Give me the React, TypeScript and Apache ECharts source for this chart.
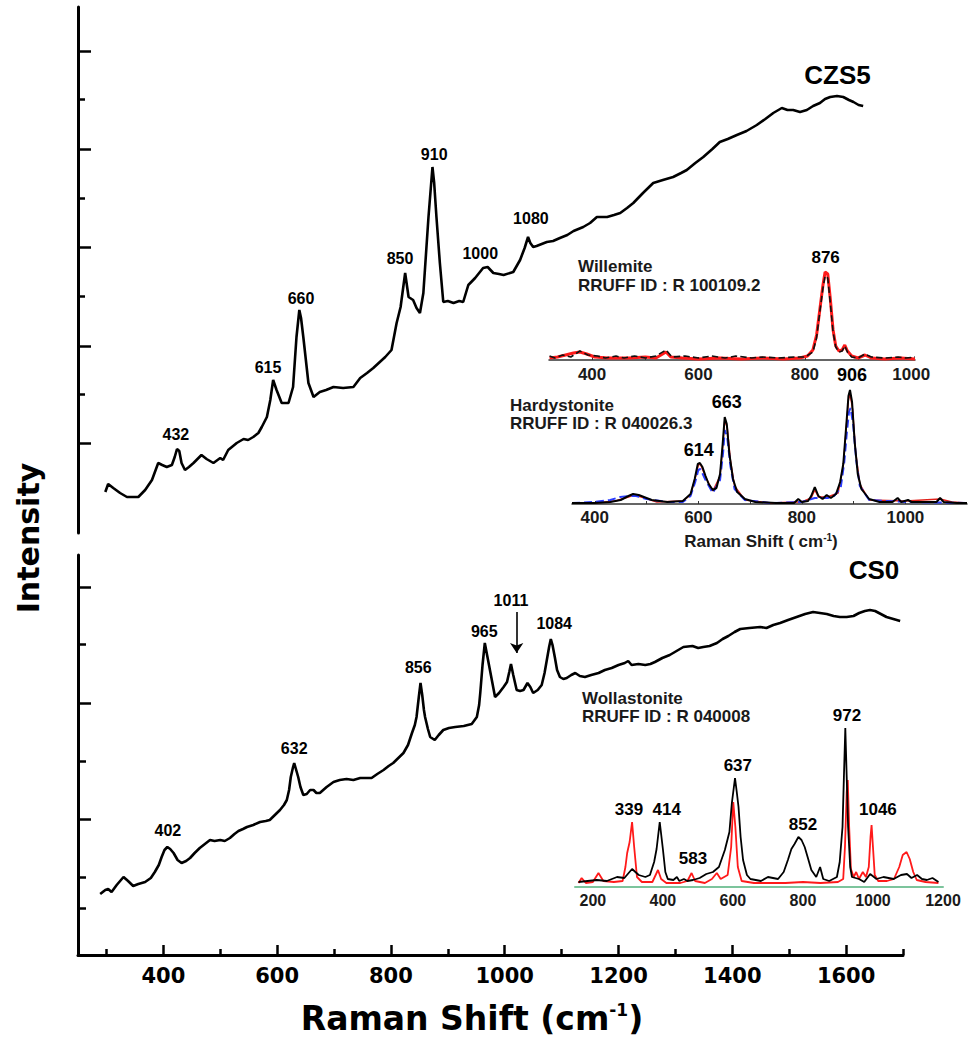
import React, { useEffect, useRef } from "react";
import * as echarts from "echarts";

// ---------- main spectra (Raman shift cm-1, intensity a.u.) ----------
const czs5: [number, number][] = [
  [298,41],[303,49],[312,45],[324,40],[336,36],[356,36],[368,43],[380,53],[391,70],[398,68],[406,66],[415,68],[420,76],[424,84],[428,82],[432,70],[438,63],[445,66],[453,70],[467,78],[476,74],[488,70],[500,75],[505,73],[514,83],[529,90],[541,94],[549,93],[558,96],[567,100],[573,106],[582,116],[588,133],[593,153],[599,143],[608,130],[620,130],[628,146],[634,196],[639,223],[642,215],[646,196],[655,150],[664,136],[675,141],[686,143],[699,146],[716,145],[734,146],[746,155],[758,160],[769,165],[790,176],[801,183],[810,210],[817,226],[825,260],[831,236],[839,233],[845,225],[851,220],[857,240],[866,316],[873,366],[876,350],[880,316],[886,270],[892,231],[900,232],[910,230],[920,232],[927,231],[936,248],[948,255],[962,265],[970,266],[980,260],[990,259],[998,258],[1015,261],[1027,273],[1035,285],[1041,296],[1045,290],[1050,286],[1056,287],[1065,289],[1074,291],[1085,292],[1097,295],[1110,298],[1121,302],[1138,306],[1150,310],[1162,316],[1180,316],[1192,318],[1203,320],[1215,325],[1226,330],[1243,340],[1261,350],[1278,353],[1296,356],[1310,360],[1320,363],[1335,370],[1349,376],[1365,384],[1378,391],[1392,394],[1408,398],[1425,402],[1443,408],[1458,414],[1472,420],[1487,425],[1497,423],[1507,423],[1519,421],[1531,423],[1542,427],[1554,430],[1563,434],[1572,436],[1584,437],[1595,436],[1605,433],[1613,431],[1622,428],[1630,427]
];

const cs0: [number, number][] = [
  [289,61],[298,65],[303,66],[309,63],[318,70],[324,74],[330,78],[338,74],[347,69],[356,71],[368,73],[378,77],[385,83],[392,90],[397,98],[402,105],[407,108],[412,106],[418,102],[425,95],[432,92],[440,94],[447,97],[455,102],[464,107],[473,111],[482,115],[490,114],[500,115],[508,114],[517,117],[525,121],[532,124],[540,126],[547,128],[558,130],[570,133],[580,134],[587,135],[596,140],[605,145],[612,150],[617,155],[621,165],[624,178],[628,188],[630,192],[633,186],[637,178],[641,168],[646,160],[652,161],[658,165],[664,165],[669,162],[675,162],[687,168],[699,173],[710,175],[722,176],[734,175],[746,177],[756,177],[766,177],[776,181],[787,185],[796,189],[804,192],[813,197],[822,202],[830,210],[837,222],[842,230],[845,238],[849,258],[852,272],[855,260],[858,245],[860,238],[865,226],[869,218],[877,215],[884,220],[892,225],[902,227],[913,228],[928,229],[942,231],[951,238],[955,250],[957,262],[961,290],[965,312],[969,300],[974,285],[979,270],[983,258],[990,262],[998,268],[1004,273],[1008,283],[1011,291],[1015,280],[1021,265],[1027,264],[1033,265],[1040,272],[1045,268],[1050,262],[1058,265],[1065,270],[1070,282],[1074,295],[1078,308],[1081,316],[1084,310],[1088,298],[1092,285],[1097,278],[1103,276],[1109,277],[1117,280],[1124,282],[1132,279],[1141,278],[1152,280],[1165,282],[1176,285],[1188,287],[1200,290],[1211,292],[1217,294],[1223,290],[1235,291],[1247,290],[1256,291],[1264,293],[1277,297],[1290,300],[1302,304],[1314,308],[1330,309],[1340,307],[1349,308],[1360,309],[1373,312],[1383,316],[1393,319],[1404,323],[1414,326],[1430,327],[1449,328],[1460,327],[1472,330],[1484,332],[1498,335],[1513,338],[1528,341],[1542,343],[1554,342],[1566,341],[1578,339],[1589,338],[1601,338],[1613,339],[1623,342],[1633,344],[1642,345],[1651,344],[1661,341],[1671,338],[1683,336],[1695,334]
];

// ---------- reference spectra (insets) ----------
const willemiteRed: [number, number][] = [
  [320,2],[335,3],[350,5],[365,7],[377,8],[390,6],[405,3],[430,2],[470,2],[500,3],[520,2],[539,8],[548,3],[570,2],[600,1],[640,2],[680,1],[720,2],[760,1],[790,2],[805,4],[815,10],[822,25],[828,50],[834,75],[838,88],[843,86],[848,60],[853,30],[858,14],[864,9],[870,10],[875,15],[880,9],[888,4],[900,2],[913,5],[925,2],[950,1],[980,2],[1007,1]
];
const willemiteBlack: [number, number][] = [
  [320,4],[330,2],[345,5],[360,3],[377,9],[392,5],[410,4],[425,2],[445,4],[460,2],[480,4],[500,2],[520,4],[539,10],[550,3],[575,4],[600,2],[625,4],[650,2],[670,4],[700,2],[720,3],[750,2],[780,3],[800,3],[815,8],[822,22],[828,48],[834,72],[838,84],[843,82],[848,56],[853,28],[858,13],[864,8],[870,9],[875,14],[880,8],[888,3],[900,2],[913,6],[925,3],[950,2],[975,3],[990,2],[1007,3]
];

const hardyBlack: [number, number][] = [
  [356,1],[380,1],[400,1],[430,2],[450,4],[465,8],[474,10],[485,9],[495,7],[510,4],[540,2],[570,3],[585,10],[593,25],[599,40],[603,41],[608,37],[614,28],[620,20],[628,14],[635,16],[642,30],[647,60],[651,87],[655,80],[660,50],[667,25],[675,12],[690,5],[710,2],[750,1],[785,1],[793,5],[800,2],[812,3],[818,8],[825,17],[832,8],[840,5],[848,9],[856,6],[866,10],[874,22],[880,40],[886,80],[890,108],[893,114],[897,102],[902,62],[908,30],[915,15],[930,5],[950,2],[975,2],[985,6],[992,2],[1005,4],[1012,2],[1040,2],[1060,2],[1067,6],[1074,2],[1100,1],[1119,1]
];
const hardyRed: [number, number][] = [
  [356,1],[400,1],[440,3],[465,7],[476,9],[490,7],[520,2],[570,3],[585,9],[594,26],[600,39],[604,40],[614,27],[628,13],[642,28],[648,62],[651,84],[656,76],[662,44],[670,18],[690,4],[740,1],[790,2],[800,2],[818,6],[825,14],[832,7],[850,7],[870,11],[880,38],[886,78],[890,104],[893,110],[898,95],[904,52],[912,20],[930,4],[1000,3],[1067,5],[1090,2],[1119,1]
];
const hardyBlue: [number, number][] = [
  [356,1],[400,2],[430,4],[449,7],[465,8],[480,8],[500,5],[540,2],[570,2],[585,8],[594,22],[600,34],[604,35],[614,24],[628,11],[642,24],[648,52],[651,74],[656,66],[662,38],[670,15],[690,4],[740,1],[800,2],[825,6],[850,6],[862,8],[875,16],[882,42],[887,72],[891,92],[894,96],[899,80],[905,44],[912,18],[930,4],[1000,2],[1119,1]
];

const wollBlack: [number, number][] = [
  [159,5],[185,6],[211,7],[240,6],[269,10],[290,9],[312,18],[331,12],[350,10],[363,12],[375,25],[382,38],[391,65],[400,38],[407,15],[414,8],[430,7],[440,10],[447,6],[460,8],[470,6],[486,7],[505,9],[524,13],[543,15],[560,20],[577,37],[590,55],[597,84],[606,109],[611,95],[616,80],[622,50],[629,27],[640,12],[650,8],[680,6],[700,10],[729,8],[745,15],[757,27],[767,38],[776,43],[787,50],[796,47],[805,40],[815,28],[824,17],[838,10],[849,20],[858,8],[875,6],[897,10],[905,25],[913,60],[917,110],[921,159],[925,110],[929,60],[935,20],[940,10],[960,8],[975,5],[992,13],[1010,8],[1030,10],[1059,8],[1080,12],[1097,13],[1110,9],[1126,12],[1140,8],[1154,7],[1170,9],[1187,5]
];
const wollRed: [number, number][] = [
  [159,4],[168,9],[180,4],[200,5],[216,14],[230,6],[260,5],[285,6],[293,20],[298,34],[305,45],[312,65],[318,40],[326,10],[340,5],[370,5],[386,17],[395,8],[410,4],[450,4],[470,6],[482,14],[492,6],[520,4],[540,8],[554,14],[565,8],[585,12],[595,40],[601,85],[607,60],[614,20],[625,6],[660,4],[700,4],[750,4],[800,5],[850,4],[900,5],[915,8],[920,40],[925,95],[928,107],[932,60],[937,18],[945,10],[952,15],[960,8],[971,15],[980,10],[988,20],[993,50],[996,62],[1000,40],[1005,12],[1015,6],[1040,6],[1060,8],[1075,20],[1085,32],[1096,35],[1105,28],[1115,15],[1125,7],[1150,5],[1187,4]
];

// ---------- peak labels [shift, intensity, text] ----------
const czs5Labels: [number, number, string][] = [
  [422,99,"432"],[584,166,"615"],[642,235,"660"],[816,275,"850"],[876,379,"910"],[957,280,"1000"],[1046,315,"1080"]
];
const cs0Labels: [number, number, string][] = [
  [408,125,"402"],[630,207,"632"],[848,288,"856"],[964,324,"965"],[1011,355,"1011"],[1087,332,"1084"]
];
const sampleNamesTop: [number, number, string][] = [[1585,458,"CZS5"]];
const sampleNamesBottom: [number, number, string][] = [[1649,385,"CS0"]];
const willemiteLabels: [number, number, string][] = [[839,103,"876"]];
const hardyLabels: [number, number, string][] = [[601,54,"614"],[655,102,"663"],[897,129,"906"]];
const wollLabels: [number, number, string][] = [
  [303,78,"339"],[411,78,"414"],[486,29,"583"],[614,122,"637"],[800,63,"852"],[926,172,"972"],[1014,78,"1046"]
];
const arrow1011: [number, number][] = [[1021,343],[1021,302]];

// ---------- ticks ----------
const mainXMajor = [400, 600, 800, 1000, 1200, 1400, 1600];
const mainXMinor = [300, 500, 700, 900, 1100, 1300, 1500, 1700];
const topYMajor = [90, 187, 286, 384, 482];
const topYMinor = [139, 237, 335, 434];
const botYMajor = [136, 252, 368];
const botYMinor = [47, 78, 194, 311];
const willemiteTicks = [400, 600, 800, 1000];
const hardyTicks = [400, 600, 800, 1000];
const insetMinor = [400, 500, 600, 700, 800, 900, 1000];
const wollTicks = [200, 400, 600, 800, 1000, 1200];

const BIG = "DejaVu Sans";
const SANS = "Liberation Sans, Arial, sans-serif";
const INK = "#000";
const plain = (v: number) => String(v);

function labelSeries(data: [number, number, string][], xi: number, yi: number, size: number, family = SANS) {
  return {
    type: "scatter",
    xAxisIndex: xi,
    yAxisIndex: yi,
    symbolSize: 1,
    clip: false,
    silent: true,
    z: 10,
    itemStyle: { color: "rgba(255,255,255,0)", opacity: 1 },
    data: data.map(([x, y, t]) => ({ value: [x, y], name: t })),
    label: {
      show: true,
      position: "inside",
      formatter: "{b}",
      color: "#000",
      opacity: 1,
      textBorderWidth: 0,
      fontSize: size,
      fontWeight: "bold",
      fontFamily: family,
    },
  };
}

function lineSeries(data: [number, number][], xi: number, yi: number, color: string, width: number, type: string = "solid", z = 2) {
  return {
    type: "line",
    xAxisIndex: xi,
    yAxisIndex: yi,
    data,
    showSymbol: false,
    symbol: "none",
    silent: true,
    z,
    lineStyle: { color, width, type },
  };
}

export default function App() {
  const ref = useRef<HTMLDivElement>(null);
  useEffect(() => {
    if (!ref.current) return;
    const chart = echarts.init(ref.current, undefined, { renderer: "svg" });
    const hiddenY = (grid: number, max: number) => ({
      type: "value", gridIndex: grid, min: 0, max, show: false, position: "left",
    });
    const insetTxt = { color: "#1a1a1a", fontSize: 17, fontWeight: "bold", fontFamily: SANS, formatter: plain };
    const option: any = {
      animation: false,
      backgroundColor: "#fff",
      grid: [
        { left: 78, top: 7, width: 825, height: 526 },
        { left: 78, top: 555, width: 825, height: 400 },
        { left: 549, top: 250, width: 366, height: 110 },
        { left: 572, top: 380, width: 395, height: 124 },
        { left: 575, top: 722, width: 368, height: 165 },
      ],
      xAxis: [
        { type: "value", gridIndex: 0, min: 250, max: 1700, show: false, position: "bottom" },
        {
          type: "value", gridIndex: 1, min: 250, max: 1700, position: "bottom",
          axisLine: { show: true, lineStyle: { color: INK, width: 3 } },
          axisTick: { show: true, inside: true, length: 10, customValues: mainXMajor, lineStyle: { color: INK, width: 2.5 } },
          axisLabel: { show: true, customValues: mainXMajor, formatter: plain, margin: 10, color: INK, fontSize: 21, fontWeight: "bold", fontFamily: BIG },
          splitLine: { show: false },
        },
        {
          type: "value", gridIndex: 2, min: 319, max: 1007, position: "bottom",
          axisLine: { show: true, lineStyle: { color: "#333", width: 1.5 } },
          axisTick: { show: true, inside: true, length: 3, customValues: insetMinor, lineStyle: { color: "#333", width: 1 } },
          axisLabel: { show: true, customValues: willemiteTicks, margin: 6, ...insetTxt },
          splitLine: { show: false },
        },
        {
          type: "value", gridIndex: 3, min: 356, max: 1119, position: "bottom",
          axisLine: { show: true, lineStyle: { color: "#333", width: 1.5 } },
          axisTick: { show: true, inside: true, length: 3, customValues: insetMinor, lineStyle: { color: "#333", width: 1 } },
          axisLabel: { show: true, customValues: hardyTicks, margin: 5, ...insetTxt },
          splitLine: { show: false },
        },
        {
          type: "value", gridIndex: 4, min: 149, max: 1200, position: "bottom",
          axisLine: { show: true, lineStyle: { color: "#7cc49c", width: 2 } },
          axisTick: { show: false },
          axisLabel: { show: true, customValues: wollTicks, margin: 5, ...insetTxt, fontSize: 16 },
          splitLine: { show: false },
        },
        {
          type: "value", gridIndex: 1, min: 250, max: 1700, position: "bottom",
          axisLine: { show: false },
          axisTick: { show: true, inside: true, length: 6, customValues: mainXMinor, lineStyle: { color: INK, width: 2.5 } },
          axisLabel: { show: false },
          splitLine: { show: false },
        },
      ],
      yAxis: [
        {
          type: "value", gridIndex: 0, min: 0, max: 526, position: "left",
          axisLine: { show: true, lineStyle: { color: INK, width: 3 } },
          axisTick: { show: true, inside: true, length: 13, customValues: topYMajor, lineStyle: { color: INK, width: 2.5 } },
          axisLabel: { show: false }, splitLine: { show: false },
        },
        {
          type: "value", gridIndex: 0, min: 0, max: 526, position: "left",
          axisLine: { show: false },
          axisTick: { show: true, inside: true, length: 7, customValues: topYMinor, lineStyle: { color: INK, width: 2.5 } },
          axisLabel: { show: false }, splitLine: { show: false },
        },
        {
          type: "value", gridIndex: 1, min: 0, max: 400, position: "left",
          axisLine: { show: true, lineStyle: { color: INK, width: 3 } },
          axisTick: { show: true, inside: true, length: 13, customValues: botYMajor, lineStyle: { color: INK, width: 2.5 } },
          axisLabel: { show: false }, splitLine: { show: false },
        },
        {
          type: "value", gridIndex: 1, min: 0, max: 400, position: "left",
          axisLine: { show: false },
          axisTick: { show: true, inside: true, length: 8, customValues: botYMinor, lineStyle: { color: INK, width: 2.5 } },
          axisLabel: { show: false }, splitLine: { show: false },
        },
        hiddenY(2, 110),
        hiddenY(3, 124),
        hiddenY(4, 165),
      ],
      series: [
        lineSeries(czs5, 0, 0, "#000", 2.6),
        {
          ...lineSeries(cs0, 1, 2, "#000", 2.6),
          markLine: {
            silent: true,
            symbol: ["none", "arrow"],
            symbolSize: 10,
            label: { show: false },
            lineStyle: { color: INK, width: 1.6, type: "solid" },
            data: [[{ coord: arrow1011[0] }, { coord: arrow1011[1] }]],
          },
        },
        lineSeries(willemiteRed, 2, 4, "#ff1a1a", 3, "solid", 3),
        lineSeries(willemiteBlack, 2, 4, "#111", 1.6, "dashed", 4),
        lineSeries(hardyRed, 3, 5, "#e0201a", 1.4, "solid", 3),
        lineSeries(hardyBlue, 3, 5, "#2a3cff", 2, "dashed", 4),
        lineSeries(hardyBlack, 3, 5, "#000", 2, "solid", 5),
        lineSeries(wollRed, 4, 6, "#ff1a1a", 1.8, "solid", 3),
        lineSeries(wollBlack, 4, 6, "#000", 1.8, "solid", 4),
        labelSeries(czs5Labels, 0, 0, 16),
        labelSeries(cs0Labels, 1, 2, 16),
        labelSeries(sampleNamesTop, 0, 0, 26),
        labelSeries(sampleNamesBottom, 1, 2, 26),
        labelSeries(willemiteLabels, 2, 4, 17),
        labelSeries(hardyLabels, 3, 5, 18),
        labelSeries(wollLabels, 4, 6, 17),
      ],
      graphic: [
        {
          type: "text", x: 28, y: 538, rotation: Math.PI / 2,
          style: { text: "Intensity", align: "center", verticalAlign: "middle", fill: INK, fontSize: 30, fontWeight: "bold", fontFamily: BIG },
        },
        {
          type: "text", x: 472, y: 1018,
          style: {
            text: "Raman Shift (cm{sup|-1})", align: "center", verticalAlign: "middle", fill: INK,
            fontSize: 33, fontWeight: "bold", fontFamily: BIG,
            rich: { sup: { fontSize: 17, fontWeight: "bold", fontFamily: BIG, fill: INK, verticalAlign: "top", padding: [0, 0, 16, 0] } },
          },
        },
        {
          type: "text", x: 578, y: 266,
          style: { text: "Willemite", align: "left", verticalAlign: "middle", fill: "#1a1a1a", fontSize: 17, fontWeight: "bold", fontFamily: SANS },
        },
        {
          type: "text", x: 578, y: 285,
          style: { text: "RRUFF ID : R 100109.2", align: "left", verticalAlign: "middle", fill: "#1a1a1a", fontSize: 17, fontWeight: "bold", fontFamily: SANS },
        },
        {
          type: "text", x: 510, y: 405,
          style: { text: "Hardystonite", align: "left", verticalAlign: "middle", fill: "#1a1a1a", fontSize: 17, fontWeight: "bold", fontFamily: SANS },
        },
        {
          type: "text", x: 510, y: 423,
          style: { text: "RRUFF ID : R 040026.3", align: "left", verticalAlign: "middle", fill: "#1a1a1a", fontSize: 17, fontWeight: "bold", fontFamily: SANS },
        },
        {
          type: "text", x: 761, y: 541,
          style: {
            text: "Raman Shift ( cm{sup|-1})", align: "center", verticalAlign: "middle", fill: "#1a1a1a",
            fontSize: 17, fontWeight: "bold", fontFamily: SANS,
            rich: { sup: { fontSize: 10, fontWeight: "bold", fontFamily: SANS, fill: "#1a1a1a", verticalAlign: "top", padding: [0, 0, 8, 0] } },
          },
        },
        {
          type: "text", x: 582, y: 698,
          style: { text: "Wollastonite", align: "left", verticalAlign: "middle", fill: "#1a1a1a", fontSize: 17, fontWeight: "bold", fontFamily: SANS },
        },
        {
          type: "text", x: 582, y: 716,
          style: { text: "RRUFF ID : R 040008", align: "left", verticalAlign: "middle", fill: "#1a1a1a", fontSize: 17, fontWeight: "bold", fontFamily: SANS },
        },
      ],
    };
    chart.setOption(option);
    return () => chart.dispose();
  }, []);
  return (
    <div
      ref={ref}
      style={{ position: "fixed", left: 0, top: 0, width: 973, height: 1041, background: "#fff" }}
    />
  );
}
